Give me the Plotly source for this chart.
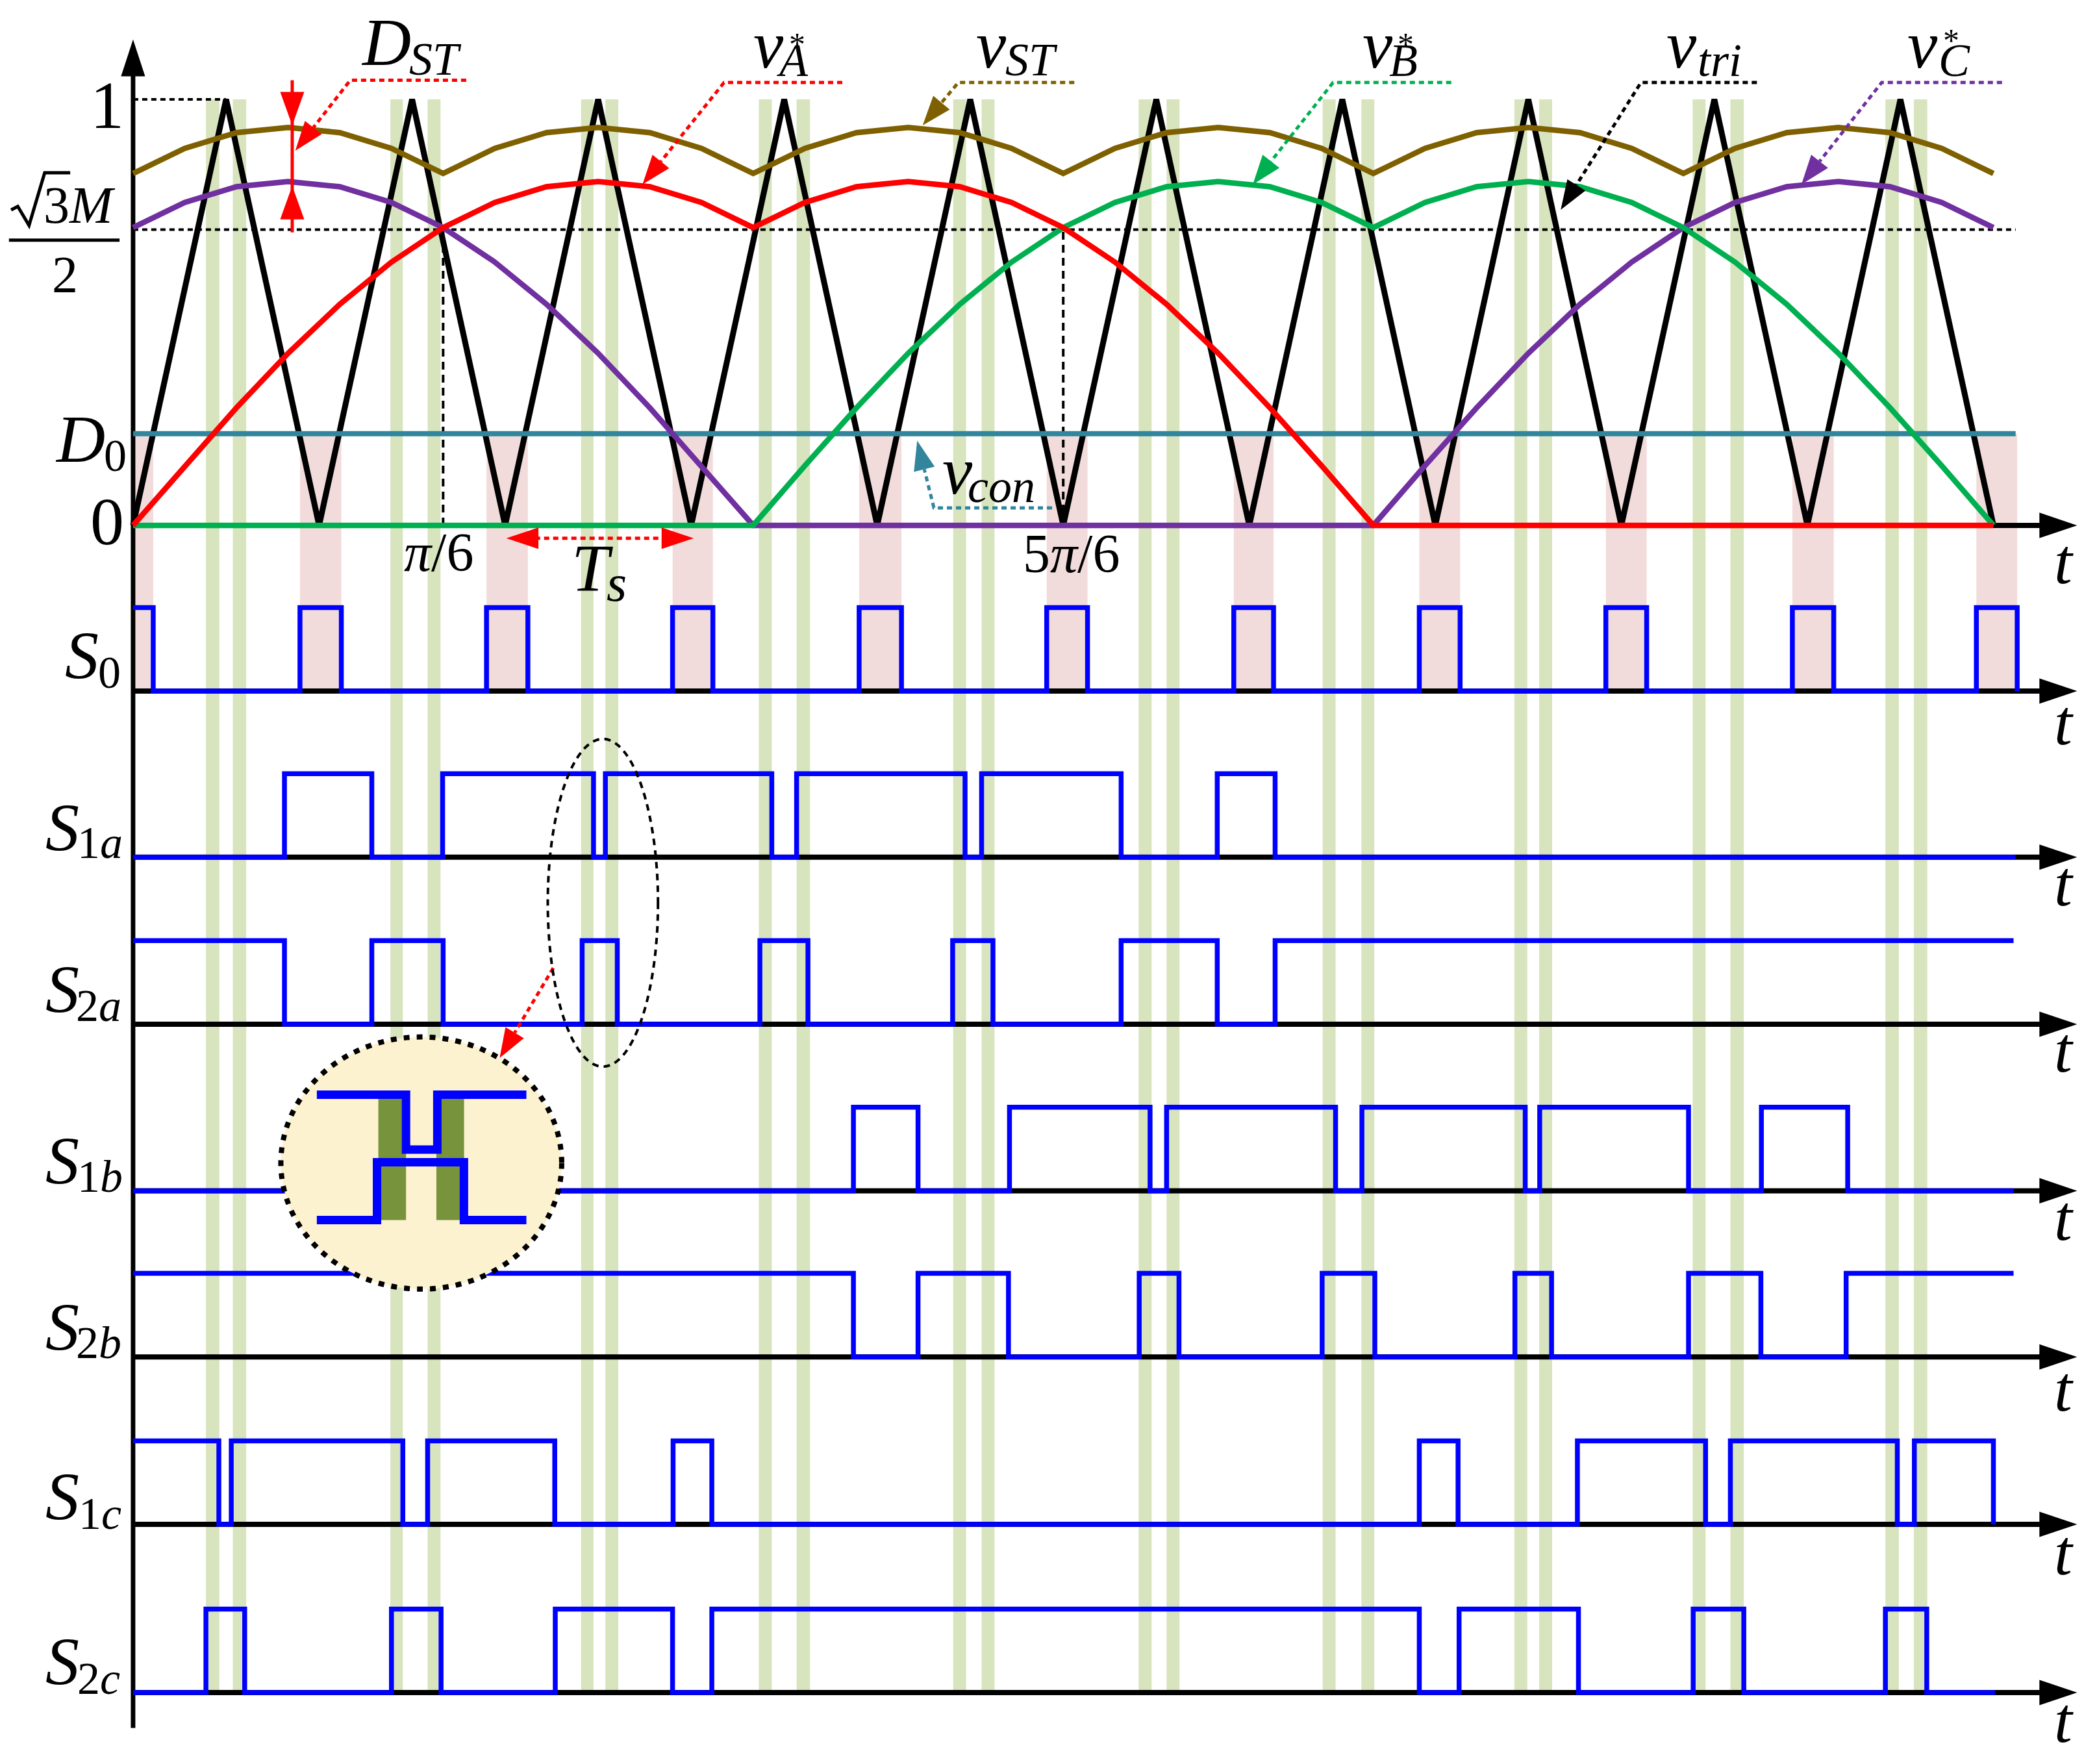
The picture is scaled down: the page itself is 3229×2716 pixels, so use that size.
import plotly.graph_objects as go

# ---------------------------------------------------------------------------
# values: angle of the fundamental in degrees, per-unit amplitude
phi = list(range(0, 361, 10))
v_st = [0.826, 0.885, 0.922, 0.934, 0.922, 0.885, 0.826, 0.885, 0.922, 0.934,
        0.922, 0.885, 0.826, 0.885, 0.922, 0.934, 0.922, 0.885, 0.826, 0.885,
        0.922, 0.934, 0.922, 0.885, 0.826, 0.885, 0.922, 0.934, 0.922, 0.885,
        0.826, 0.885, 0.922, 0.934, 0.922, 0.885, 0.826]
v_a = [0, 0.140, 0.276, 0.404, 0.519, 0.618, 0.699, 0.758, 0.795, 0.807,
       0.795, 0.758, 0.699, 0.758, 0.795, 0.807, 0.795, 0.758, 0.699, 0.618,
       0.519, 0.404, 0.276, 0.140, 0, 0, 0, 0, 0, 0,
       0, 0, 0, 0, 0, 0, 0]
v_b = [0, 0, 0, 0, 0, 0, 0, 0, 0, 0,
       0, 0, 0, 0.140, 0.276, 0.404, 0.519, 0.618, 0.699, 0.758,
       0.795, 0.807, 0.795, 0.758, 0.699, 0.758, 0.795, 0.807, 0.795, 0.758,
       0.699, 0.618, 0.519, 0.404, 0.276, 0.140, 0]
v_c = [0.699, 0.758, 0.795, 0.807, 0.795, 0.758, 0.699, 0.618, 0.519, 0.404,
       0.276, 0.140, 0, 0, 0, 0, 0, 0, 0, 0,
       0, 0, 0, 0, 0, 0.140, 0.276, 0.404, 0.519, 0.618,
       0.699, 0.758, 0.795, 0.807, 0.795, 0.758, 0.699]

# triangular carrier vertices
tri_phi = [0, 18, 36, 54, 72, 90, 108, 126, 144, 162, 180,
           198, 216, 234, 252, 270, 288, 306, 324, 342, 360]
tri_v = [0, 1, 0, 1, 0, 1, 0, 1, 0, 1, 0, 1, 0, 1, 0, 1, 0, 1, 0, 1, 0]

d0 = 0.215          # v_con level
ref_level = 0.6945  # sqrt(3)M/2 level
line_end = 364.3

# shoot-through (green) bands
st_start = [14.1, 19.3, 49.8, 57.0, 86.7, 91.4, 121.1, 128.4, 158.7, 164.2,
            194.6, 200.0, 230.2, 237.7, 267.3, 272.1, 301.8, 309.1, 339.1, 344.6]
st_end = [16.7, 21.9, 52.2, 59.5, 89.1, 93.9, 123.6, 131.0, 161.2, 166.7,
          197.1, 202.5, 232.7, 240.2, 269.8, 274.6, 304.3, 311.7, 341.7, 347.2]

# gate signals: level at 0, switching instants, end of trace
s0_edges = [3.9, 32.3, 40.3, 68.4, 76.4, 104.4, 112.2, 140.5, 148.7, 176.8, 184.7,
            213.0, 220.7, 248.9, 256.8, 285.0, 292.9, 321.1, 329.1, 356.7, 364.6]
s1a_edges = [29.3, 46.2, 59.9, 89.1, 91.4, 123.6, 128.4, 161.0, 164.2, 191.2, 209.8, 221.0]
s2a_edges = [29.3, 46.2, 60.0, 86.9, 93.7, 121.3, 130.6, 158.6, 166.4, 191.2, 209.8, 221.0]
s1b_edges = [139.4, 151.9, 169.6, 196.8, 200.0, 232.7, 237.8, 269.4, 272.2, 301.0, 315.1, 331.8]
s2b_edges = [139.4, 151.9, 169.4, 194.7, 202.4, 230.1, 240.3, 267.4, 274.5, 301.0, 315.0, 331.5]
s1c_edges = [16.6, 19.0, 52.2, 57.0, 81.6, 104.5, 112.0, 248.9, 256.4, 279.5,
             304.3, 309.1, 341.4, 344.7, 360.0]
s2c_edges = [14.1, 21.6, 50.0, 59.6, 81.7, 104.4, 112.0, 248.9, 256.6, 279.7,
             301.9, 311.7, 339.1, 347.1]

row_names = ["0", "1<i>a</i>", "2<i>a</i>", "1<i>b</i>", "2<i>b</i>", "1<i>c</i>", "2<i>c</i>"]
row_start = [1, 0, 1, 0, 1, 1, 0]
row_edges = [s0_edges, s1a_edges, s2a_edges, s1b_edges, s2b_edges, s1c_edges, s2c_edges]
row_end = [364.6, 364.3, 363.9, 363.9, 363.9, 360.0, 360.3]
row_base = [-0.389, -0.779, -1.171, -1.562, -1.952, -2.345, -2.740]
pulse_h = 0.196

RED, GREEN, PURPLE, BROWN = "#FF0000", "#00B050", "#7030A0", "#7F6000"
TEAL, BLUE = "#31859C", "#0000FF"
BAND_G, BAND_P = "#D7E4BD", "#F2DCDB"
FONT = "Liberation Serif"

# page is 3229 x 2716; the html body keeps an 8px margin, so the figure is a bit smaller
OFF = 8
FW, FH = 3213, 2700
SC = 3229 / 1568  # decorations are placed on a 1568 x 1319 grid


def gx(x):
    return (x * SC - OFF) / FW


def gy(y):
    return 1 - (y * SC - OFF) / FH


def gpath(points, close=False):
    s = "M " + " L ".join(f"{gx(x):.5f},{gy(y):.5f}" for x, y in points)
    return s + (" Z" if close else "")


def head(tip, frm, length, half, color):
    dx, dy = tip[0] - frm[0], tip[1] - frm[1]
    n = (dx * dx + dy * dy) ** 0.5
    ux, uy = dx / n, dy / n
    bx, by = tip[0] - ux * length, tip[1] - uy * length
    pts = [tip, (bx - uy * half, by + ux * half), (bx + uy * half, by - ux * half)]
    return dict(type="path", xref="paper", yref="paper", path=gpath(pts, True),
                fillcolor=color, line=dict(width=0), layer="above"), (bx, by)


def steps(start, edges, end):
    xs, ys, lv = [0.0], [start], start
    for e in edges:
        lv = 1 - lv
        xs.append(e)
        ys.append(lv)
    if end > xs[-1]:
        xs.append(end)
        ys.append(lv)
    return xs, ys


shapes = []
# shaded bands
for a, b in zip(st_start, st_end):
    shapes.append(dict(type="rect", xref="x", yref="y", x0=a, x1=b, y0=row_base[-1], y1=1,
                       fillcolor=BAND_G, line=dict(width=0), layer="below"))
s0x, s0y = steps(row_start[0], s0_edges, row_end[0])
for i in range(len(s0x) - 1):
    if s0y[i] == 1:
        shapes.append(dict(type="rect", xref="x", yref="y", x0=s0x[i], x1=s0x[i + 1],
                           y0=row_base[0], y1=d0, fillcolor=BAND_P, line=dict(width=0),
                           layer="below"))

# reference dotted / dashed lines
shapes += [
    dict(type="line", xref="x", yref="y", x0=0, x1=18, y0=1, y1=1,
         line=dict(color="black", width=4, dash="8px,6px"), layer="below"),
    dict(type="line", xref="x", yref="y", x0=0, x1=line_end, y0=ref_level, y1=ref_level,
         line=dict(color="black", width=4, dash="8px,6px"), layer="below"),
    dict(type="line", xref="x", yref="y", x0=60, x1=60, y0=0, y1=ref_level,
         line=dict(color="black", width=4, dash="12px,8px"), layer="below"),
    dict(type="line", xref="x", yref="y", x0=180, x1=180, y0=0, y1=ref_level,
         line=dict(color="black", width=4, dash="12px,8px"), layer="below"),
]

# axes
shapes.append(dict(type="line", xref="x", yref="y", x0=0, x1=0, y0=-2.823, y1=1.06,
                   line=dict(color="black", width=7), layer="below"))
shapes.append(dict(type="path", xref="x", yref="y",
                   path="M 0,1.1407 L -2.33,1.054 L 2.33,1.054 Z",
                   fillcolor="black", line=dict(width=0), layer="below"))
for base in [0] + row_base:
    shapes.append(dict(type="line", xref="x", yref="y", x0=0, x1=369.5, y0=base, y1=base,
                       line=dict(color="black", width=8), layer="below"))
    shapes.append(dict(type="path", xref="x", yref="y",
                       path=f"M 376.2,{base} L 368.9,{base + 0.0298} L 368.9,{base - 0.0298} Z",
                       fillcolor="black", line=dict(width=0), layer="below"))

# leaders with arrowheads (grid px)
leaders = [
    ([(348.6, 60), (261.9, 60)], (220.8, 112.7), RED),
    ([(629.8, 61.7), (541.4, 61.7)], (480.4, 137.9), RED),
    ([(803.3, 61.7), (716.6, 61.7)], (689.9, 93.7), BROWN),
    ([(1085.2, 61.7), (996.8, 61.7)], (936.8, 137.9), GREEN),
    ([(1313.7, 61.7), (1227, 61.7)], (1167, 156.9), "black"),
    ([(1497, 61.7), (1407, 61.7)], (1347, 137.9), PURPLE),
    ([(786.7, 379.7), (698.3, 379.7)], (685.8, 329.5), TEAL),
    ([(413.7, 723.7)], (373.6, 791), RED),
]
for pts, tip, col in leaders:
    hd, base = head(tip, pts[-1], 22, 8, col)
    shapes.append(dict(type="path", xref="paper", yref="paper", path=gpath(pts + [base]),
                       line=dict(color=col, width=5, dash="8px,6px"), layer="above"))
    shapes.append(hd)

# T_s span arrow
shapes.append(dict(type="line", xref="paper", yref="paper", x0=gx(400), x1=gx(497),
                   y0=gy(402.4), y1=gy(402.4),
                   line=dict(color=RED, width=5, dash="8px,6px"), layer="above"))
shapes.append(head((378.6, 402.4), (518.7, 402.4), 24, 8, RED)[0])
shapes.append(head((518.7, 402.4), (378.6, 402.4), 24, 8, RED)[0])

# D_ST double arrow
shapes.append(dict(type="line", xref="paper", yref="paper", x0=gx(218.5), x1=gx(218.5),
                   y0=gy(60), y1=gy(173.7), line=dict(color=RED, width=5), layer="above"))
shapes.append(head((218.5, 93.7), (218.5, 60), 25, 9, RED)[0])
shapes.append(head((218.5, 139), (218.5, 173.7), 25, 9, RED)[0])

# radical sign and fraction bar of sqrt(3)M/2
shapes.append(dict(type="path", xref="paper", yref="paper",
                   path=gpath([(8.3, 157), (13.3, 154.3), (21.7, 168.5), (33.4, 129.2), (52.5, 129.2)]),
                   line=dict(color="black", width=5), layer="above"))
shapes.append(dict(type="line", xref="paper", yref="paper", x0=gx(6.7), x1=gx(89.4),
                   y0=gy(179.6), y1=gy(179.6), line=dict(color="black", width=5), layer="above"))

# dashed ellipse around the S1a/S2a detail
shapes.append(dict(type="circle", xref="paper", yref="paper", x0=gx(409.6), x1=gx(492),
                   y0=gy(797.5), y1=gy(552.5),
                   line=dict(color="black", width=4, dash="10px,8px"), layer="above"))

# magnified inset
shapes.append(dict(type="circle", xref="paper", yref="paper", x0=gx(210), x1=gx(420),
                   y0=gy(963.8), y1=gy(775.3), fillcolor="#FDF2D0",
                   line=dict(color="black", width=8, dash="9px,11px"), layer="above"))
for x0, x1 in [(282.9, 303.6), (326.3, 347.0)]:
    shapes.append(dict(type="rect", xref="paper", yref="paper", x0=gx(x0), x1=gx(x1),
                       y0=gy(912.2), y1=gy(821.6), fillcolor="#77933C",
                       line=dict(width=0), layer="above"))
for pts in [
    [(236.9, 818.5), (303.6, 818.5), (303.6, 859.5), (327, 859.5), (327, 818.5), (393.6, 818.5)],
    [(236.9, 912.2), (281.9, 912.2), (281.9, 869), (346.9, 869), (346.9, 912.2), (393.6, 912.2)],
]:
    shapes.append(dict(type="path", xref="paper", yref="paper", path=gpath(pts),
                       line=dict(color=BLUE, width=13), layer="above"))

# ---------------------------------------------------------------------------
fig = go.Figure()
fig.add_trace(go.Scatter(x=tri_phi, y=tri_v, mode="lines", line=dict(color="black", width=9)))
fig.add_trace(go.Scatter(x=[0, line_end], y=[d0, d0], mode="lines",
                         line=dict(color=TEAL, width=8)))
for ys, col in [(v_c, PURPLE), (v_b, GREEN), (v_a, RED), (v_st, BROWN)]:
    fig.add_trace(go.Scatter(x=phi, y=ys, mode="lines", line=dict(color=col, width=8.5)))

for start, edges, end, base in zip(row_start, row_edges, row_end, row_base):
    xs, lv = steps(start, edges, end)
    fig.add_trace(go.Scatter(x=xs, y=[base + l * pulse_h for l in lv], mode="lines",
                             line=dict(color=BLUE, width=7.5, shape="hv")))

# ---------------------------------------------------------------------------
labels = [
    ("1", 80, 78.6, 104),
    ("3<i>M</i>", 59.5, 153.5, 80),
    ("2", 48.5, 205.6, 80),
    ("<i>D</i>", 60, 327.8, 104), ("0", 86, 340.7, 70),
    ("0", 80, 389.9, 104),
    ("<i>π</i>/6", 328, 413.2, 84),
    ("5<i>π</i>/6", 801, 414.2, 84),
    ("<i>T</i>", 443, 424.6, 104), ("<i>s</i>", 461, 436, 80),
    ("<i>v</i>", 715.8, 352, 104), ("<i>con</i>", 749, 363.6, 72),
    ("<i>D</i>", 288.5, 31.2, 104), ("<i>ST</i>", 325.5, 44, 72),
    ("<i>v</i>", 574.5, 33.3, 104), ("<i>A</i>", 592.5, 45.1, 72), ("*", 596, 33, 50),
    ("<i>v</i>", 741.5, 33.3, 104), ("<i>ST</i>", 771.5, 44.6, 72),
    ("<i>v</i>", 1030, 33.3, 104), ("<i>B</i>", 1049.5, 45.1, 72), ("*", 1051, 33, 50),
    ("<i>v</i>", 1257.5, 33.3, 104), ("<i>tri</i>", 1286, 45, 72),
    ("<i>v</i>", 1437.5, 33.3, 104), ("<i>C</i>", 1461.5, 45, 72), ("*", 1459, 30, 50),
]
s_x = [61, 46.7, 46.7, 46.7, 46.7, 46.7, 46.7]
s_y = [489.9, 618.4, 739.1, 867.6, 992, 1118.8, 1242]
sub_x = [81.7, 75, 74, 75, 74, 75, 74]
sub_y = [502.9, 630.3, 752.1, 879.5, 1003.9, 1131.8, 1255]
for name, x, y, sx, sy in zip(row_names, s_x, s_y, sub_x, sub_y):
    labels.append(("<i>S</i>", x, y, 104))
    labels.append((name, sx, sy, 70))
for ty in [420, 540.1, 660.8, 785.1, 910.5, 1038.4, 1160.6, 1285.9]:
    labels.append(("<i>t</i>", 1543, ty, 100))

annotations = [dict(text=t, x=gx(x), y=gy(y), xref="paper", yref="paper", showarrow=False,
                    xanchor="center", yanchor="middle",
                    font=dict(family=FONT, size=s, color="black"))
               for t, x, y, s in labels]

fig.update_layout(
    width=FW, height=FH, margin=dict(l=0, r=0, t=0, b=0),
    paper_bgcolor="white", plot_bgcolor="white", showlegend=False,
    xaxis=dict(range=[-24.745, 379.04], visible=False, fixedrange=True),
    yaxis=dict(range=[-2.8955, 1.22108], visible=False, fixedrange=True),
    shapes=shapes, annotations=annotations,
)
fig.write_html("out.html")
